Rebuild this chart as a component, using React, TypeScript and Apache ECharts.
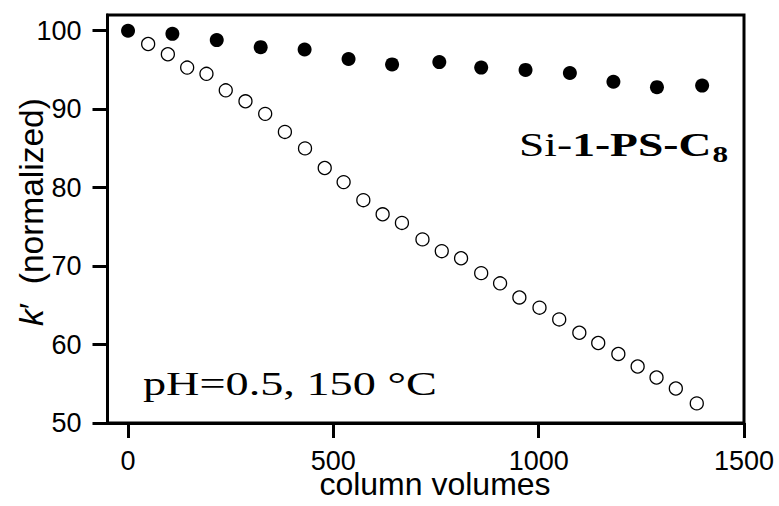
import React, { useEffect, useRef } from "react";
import * as echarts from "echarts";

// Si-1-PS-C8 (filled circles)
const filledX = [0, 108, 216, 323, 430, 537, 643, 758, 860, 968, 1076, 1182, 1288, 1398];
const filledY = [100, 99.6, 98.8, 97.9, 97.6, 96.4, 95.7, 96.0, 95.3, 95.0, 94.6, 93.5, 92.8, 93.0];

// comparison column (open circles)
const openX = [49, 97, 144, 191, 238, 286, 334, 382, 431, 479, 525, 573, 620, 667, 717, 764, 811, 860, 906, 953, 1002, 1050, 1099, 1145, 1194, 1241, 1287, 1334, 1385];
const openY = [98.3, 97.0, 95.3, 94.5, 92.4, 91.0, 89.4, 87.1, 85.0, 82.5, 80.7, 78.4, 76.6, 75.5, 73.4, 71.9, 71.0, 69.1, 67.8, 66.0, 64.7, 63.2, 61.5, 60.2, 58.8, 57.2, 55.8, 54.4, 52.5];

const xTicks = [0, 500, 1000, 1500];
const yTicks = [50, 60, 70, 80, 90, 100];

const xTitle = "column volumes";
const sampleLabel = "pH=0.5, 150 °C";

const SANS = "Liberation Sans";
const SERIF = "Liberation Serif";

export default function App() {
  const ref = useRef<HTMLDivElement>(null);
  useEffect(() => {
    if (!ref.current) return;
    const chart = echarts.init(ref.current, null, { renderer: "svg" });
    const filled = filledX.map((x, i) => [x, filledY[i]]);
    const open = openX.map((x, i) => [x, openY[i]]);
    chart.setOption({
      animation: false,
      backgroundColor: "#fff",
      grid: {
        left: 107.5,
        right: 35,
        top: 15,
        bottom: 83,
        containLabel: false,
        outerBoundsMode: "none",
        show: true,
        borderColor: "#000",
        borderWidth: 3,
        backgroundColor: "transparent",
      },
      xAxis: {
        type: "value",
        min: -50,
        max: 1500,
        splitLine: { show: false },
        axisLine: { show: true, onZero: false, lineStyle: { color: "#000", width: 3 } },
        axisTick: { show: true, customValues: xTicks, length: 15, lineStyle: { color: "#000", width: 3 } },
        axisLabel: {
          customValues: xTicks,
          formatter: (v: number) => String(v),
          margin: 28,
          fontSize: 27,
          lineHeight: 20,
          fontFamily: SANS,
          color: "#000",
        },
      },
      yAxis: {
        type: "value",
        min: 50,
        max: 102,
        splitLine: { show: false },
        axisLine: { show: true, onZero: false, lineStyle: { color: "#000", width: 3 } },
        axisTick: { show: true, customValues: yTicks, length: 15, lineStyle: { color: "#000", width: 3 } },
        axisLabel: {
          customValues: yTicks,
          formatter: (v: number) => String(v),
          margin: 26,
          fontSize: 27,
          lineHeight: 22,
          fontFamily: SANS,
          color: "#000",
          padding: [0, 0, 6, 0],
        },
      },
      series: [
        {
          type: "scatter",
          data: open,
          symbol: "circle",
          symbolSize: 13,
          itemStyle: { color: "#fff", borderColor: "#000", borderWidth: 1.3, opacity: 1 },
          z: 2,
        },
        {
          type: "scatter",
          data: filled,
          symbol: "circle",
          symbolSize: 14,
          itemStyle: { color: "#000", opacity: 1 },
          z: 3,
        },
      ],
      graphic: [
        {
          type: "text",
          x: 435,
          y: 484,
          style: {
            text: xTitle,
            fontSize: 32,
            lineHeight: 24,
            fontFamily: SANS,
            fill: "#000",
            align: "center",
            verticalAlign: "middle",
          },
        },
        {
          type: "text",
          x: 31,
          y: 212,
          rotation: Math.PI / 2,
          style: {
            text: "{i|k}′  (normalized)",
            fontSize: 33.5,
            fontFamily: SANS,
            fill: "#000",
            align: "center",
            verticalAlign: "middle",
            rich: {
              i: { fontSize: 33.5, fontFamily: SANS, fontStyle: "italic", fill: "#000" },
            },
          },
        },
        {
          type: "text",
          x: 143,
          y: 383.5,
          scaleX: 1.36,
          style: {
            text: sampleLabel,
            fontSize: 34,
            fontFamily: SERIF,
            fill: "#000",
            align: "left",
            verticalAlign: "middle",
          },
        },
        {
          type: "text",
          x: 519,
          y: 144.5,
          scaleX: 1.34,
          style: {
            text: "{a|Si-}{b|1-PS-C}",
            fontSize: 34,
            fontFamily: SERIF,
            fill: "#000",
            align: "left",
            verticalAlign: "middle",
            rich: {
              a: { fontSize: 34, fontFamily: SERIF, fontWeight: "normal", fill: "#000" },
              b: { fontSize: 34, fontFamily: SERIF, fontWeight: "bold", fill: "#000" },
            },
          },
        },
        {
          type: "text",
          x: 712.5,
          y: 154.2,
          scaleX: 1.3,
          style: {
            text: "8",
            fontSize: 24,
            fontFamily: SERIF,
            fontWeight: "bold",
            fill: "#000",
            align: "left",
            verticalAlign: "middle",
          },
        },
      ],
    });
    return () => chart.dispose();
  }, []);
  return (
    <div
      ref={ref}
      style={{ position: "absolute", left: 0, top: 0, width: 779, height: 506, background: "#fff" }}
    />
  );
}
